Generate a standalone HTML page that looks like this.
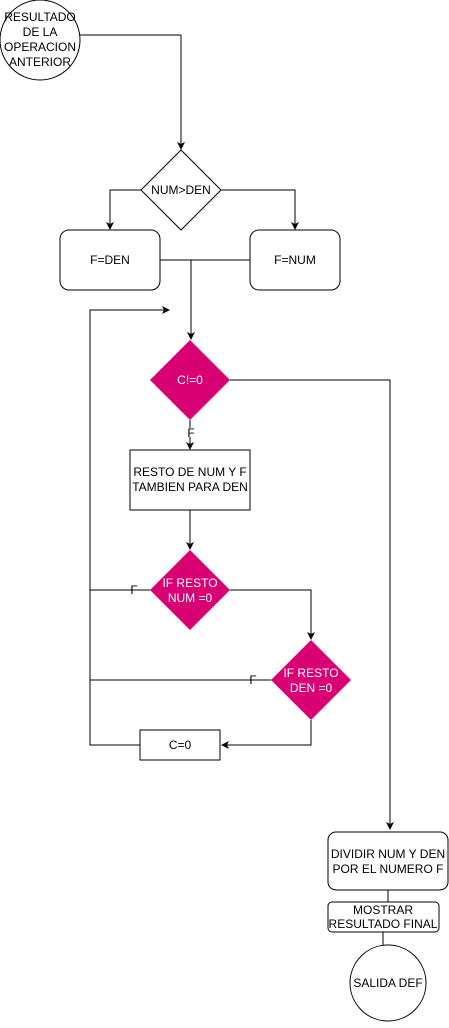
<!DOCTYPE html>
<html><head><style>body{margin:0;background:#fff}</style></head><body>
<svg width="449" height="1023" xmlns="http://www.w3.org/2000/svg" font-family="Liberation Sans, sans-serif" font-size="12">
<defs><marker id="a" markerWidth="8" markerHeight="8" refX="7" refY="4" orient="auto" markerUnits="userSpaceOnUse"><path d="M0,0 L8,4 L0,8 L2,4 z" fill="#000"/></marker></defs>
<g fill="none" stroke="#000" stroke-width="1">
<circle cx="40" cy="40" r="40"/>
<path d="M80,35 H181 V149" marker-end="url(#a)"/>
<path d="M181,150 L221,190 L181,230 L141,190 Z"/>
<path d="M141,190 H110 V229" marker-end="url(#a)"/>
<path d="M221,190 H295 V229" marker-end="url(#a)"/>
<rect x="60" y="230" width="100" height="60" rx="9"/>
<rect x="250" y="230" width="90" height="60" rx="9"/>
<path d="M160,260 H250 M191,260 V339" marker-end="url(#a)"/>
<path d="M230,380 H390 V829" marker-end="url(#a)"/>
<path d="M190,420 V428 M190,437 V449" marker-end="url(#a)"/>
<rect x="130" y="450" width="120" height="60"/>
<path d="M190,510 V549" marker-end="url(#a)"/>
<path d="M150,590 H90 M230,590 H311 V639" marker-end="url(#a)"/>
<path d="M271,680 H90"/>
<path d="M311,720 V745 H222" marker-end="url(#a)"/>
<rect x="140" y="730" width="80" height="30"/>
<path d="M140,745 H90 V310 H169" marker-end="url(#a)"/>
<rect x="328" y="832" width="120" height="58" rx="8"/>
<path d="M388,890 V902 M383,932 V945"/>
<rect x="328" y="902" width="111" height="30" rx="4"/>
<circle cx="388" cy="983" r="38"/>
</g>
<g fill="#d80073">
<path d="M190,340 L230,380 L190,420 L150,380 Z"/>
<path d="M190,550 L230,590 L190,630 L150,590 Z"/>
<path d="M311,640 L351,680 L311,720 L271,680 Z"/>
</g>
<g text-anchor="middle" fill="#000">
<text x="40" y="21">RESULTADO</text><text x="40" y="36">DE LA</text><text x="40" y="51">OPERACION</text><text x="40" y="66">ANTERIOR</text>
<text x="181" y="194">NUM&gt;DEN</text>
<text x="110" y="264">F=DEN</text>
<text x="295" y="264">F=NUM</text>
<text x="191" y="437" fill="#000">F</text>
<text x="190" y="476">RESTO DE NUM Y F</text><text x="190" y="491">TAMBIEN PARA DEN</text>
<text x="134" y="594">F</text>
<text x="253" y="684">F</text>
<text x="180" y="749">C=0</text>
<text x="388" y="858">DIVIDIR NUM Y DEN</text><text x="388" y="873">POR EL NUMERO F</text>
<text x="383" y="914">MOSTRAR</text><text x="383" y="928">RESULTADO FINAL</text>
<text x="388" y="987">SALIDA DEF</text>
</g>
<g text-anchor="middle" fill="#fff">
<text x="190" y="384">C!=0</text>
<text x="190" y="587">IF RESTO</text><text x="190" y="602">NUM =0</text>
<text x="311" y="677">IF RESTO</text><text x="311" y="692">DEN =0</text>
</g>
</svg>
</body></html>
